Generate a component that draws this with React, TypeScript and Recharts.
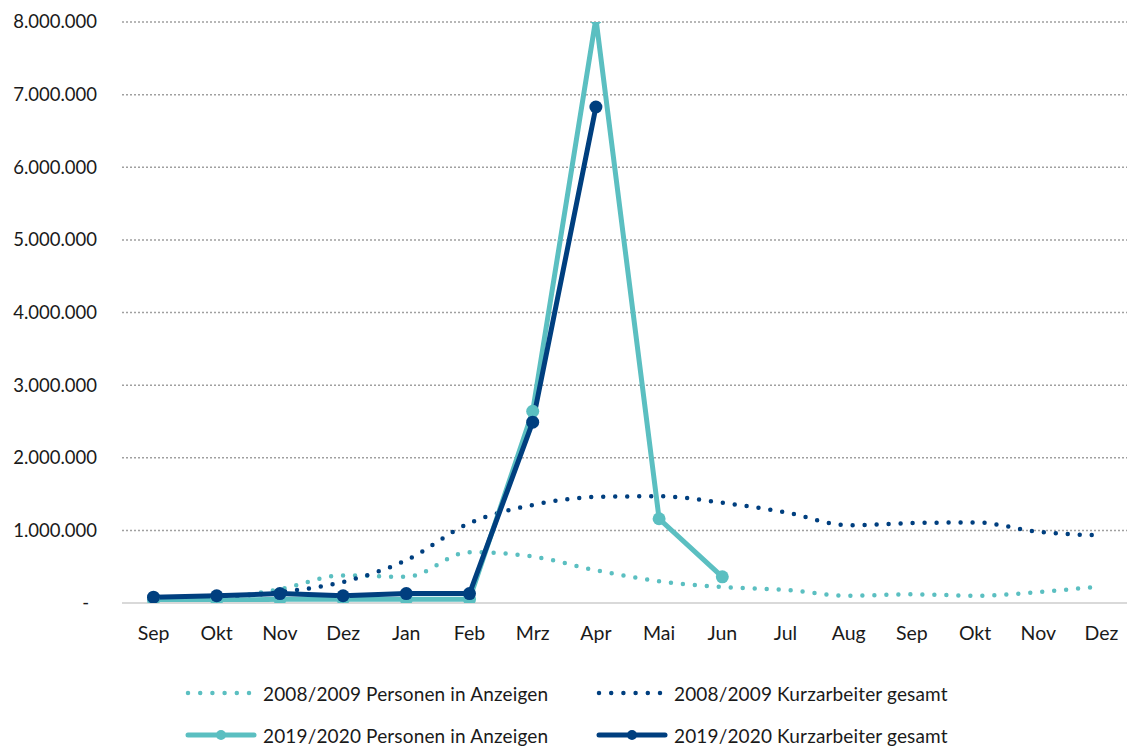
import { LineChart, Line, XAxis, YAxis, CartesianGrid, Legend } from 'recharts';

const TEAL = '#5bbfc1';
const NAVY = '#003f7f';
const FONT = 'Lato, "Noto Sans", sans-serif';

const months = ['Sep', 'Okt', 'Nov', 'Dez', 'Jan', 'Feb', 'Mrz', 'Apr', 'Mai', 'Jun', 'Jul', 'Aug', 'Sep', 'Okt', 'Nov', 'Dez'];
const yTicks = [0, 1000000, 2000000, 3000000, 4000000, 5000000, 6000000, 7000000, 8000000];

// 2008/2009 (dotted, smoothed)
const personen0809 = [20000, 60000, 190000, 380000, 360000, 700000, 640000, 450000, 300000, 220000, 180000, 100000, 120000, 100000, 150000, 230000];
const kurz0809 = [30000, 70000, 150000, 290000, 590000, 1100000, 1350000, 1460000, 1470000, 1380000, 1250000, 1070000, 1100000, 1110000, 980000, 930000];

// 2019/2020 (solid with markers)
const personen1920 = [40000, 40000, 50000, 50000, 50000, 50000, 2640000, 8050000, 1160000, 360000, null, null, null, null, null, null];
const kurz1920 = [80000, 100000, 130000, 100000, 130000, 130000, 2490000, 6830000, null, null, null, null, null, null, null, null];

const data = months.map((m, i) => ({
  idx: i,
  p0809: personen0809[i],
  k0809: kurz0809[i],
  p1920: personen1920[i],
  k1920: kurz1920[i],
}));

const legendItems = [
  { name: '2008/2009 Personen in Anzeigen', color: TEAL, dotted: true, x: 185, y: 27 },
  { name: '2008/2009 Kurzarbeiter gesamt', color: NAVY, dotted: true, x: 596, y: 27 },
  { name: '2019/2020 Personen in Anzeigen', color: TEAL, dotted: false, x: 185, y: 69 },
  { name: '2019/2020 Kurzarbeiter gesamt', color: NAVY, dotted: false, x: 596, y: 69 },
];

const fmt = (v: number) => (v === 0 ? '-' : v.toLocaleString('de-DE'));

function YTick(props: any) {
  const { x, y, payload } = props;
  const zero = payload.value === 0;
  return (
    <text x={zero ? x - 8 : x} y={y} dy="0.35em" textAnchor="end" fill="#1a1a1a" fontSize={18.5} fontFamily={FONT}>
      {fmt(payload.value)}
    </text>
  );
}

function LegendContent() {
  return (
    <div style={{ position: 'relative', width: 1127, height: 80, fontFamily: FONT, fontSize: 19, letterSpacing: 0.15, color: '#1a1a1a' }}>
      {legendItems.map((it) => (
        <div key={it.name} style={{ position: 'absolute', left: it.x, top: it.y - 12, height: 24, display: 'flex', alignItems: 'center' }}>
          <svg width={72} height={14} style={{ marginRight: 6 }}>
            {it.dotted ? (
              <line x1={3} y1={7} x2={70} y2={7} stroke={it.color} strokeWidth={4.5} strokeLinecap="round" strokeDasharray="0 12.2" />
            ) : (
              <g>
                <line x1={3} y1={7} x2={69} y2={7} stroke={it.color} strokeWidth={5} strokeLinecap="round" />
                <circle cx={36} cy={7} r={5} fill={it.color} />
              </g>
            )}
          </svg>
          <span style={{ whiteSpace: 'nowrap' }}>{it.name}</span>
        </div>
      ))}
    </div>
  );
}

export default function App() {
  return (
    <div style={{ position: 'absolute', left: 0, top: 0, width: 1127, height: 746, overflow: 'hidden', background: '#fff' }}>
      <LineChart width={1135} height={746} data={data} margin={{ top: 22, right: 2, left: 0, bottom: 0 }}>
        <CartesianGrid vertical={false} stroke="#a0a0a0" strokeWidth={1.5} strokeDasharray="2 2" horizontalValues={yTicks.slice(1)} />
        <XAxis
          dataKey="idx"
          type="category"
          height={63}
          padding={{ left: 31.5, right: 31.5 }}
          tickFormatter={(i: number) => months[i]}
          tickLine={false}
          tickSize={0}
          tickMargin={23}
          axisLine={{ stroke: '#d9d9d9', strokeWidth: 2 }}
          tick={{ fill: '#1a1a1a', fontSize: 19.5, fontFamily: FONT }}
          interval={0}
        />
        <YAxis
          width={122}
          domain={[0, 8000000]}
          ticks={yTicks}
          allowDataOverflow
          axisLine={false}
          tickLine={false}
          tickSize={0}
          tickMargin={25}
          tick={<YTick />}
        />
        <Legend verticalAlign="bottom" height={80} wrapperStyle={{ left: 0, width: 1127 }} content={<LegendContent />} />
        <Line type="monotone" dataKey="p0809" name="2008/2009 Personen in Anzeigen" stroke={TEAL} strokeWidth={4.5} strokeLinecap="round" strokeDasharray="0 12" dot={false} isAnimationActive={false} />
        <Line type="monotone" dataKey="k0809" name="2008/2009 Kurzarbeiter gesamt" stroke={NAVY} strokeWidth={4.5} strokeLinecap="round" strokeDasharray="0 12" dot={false} isAnimationActive={false} />
        <Line type="linear" dataKey="p1920" name="2019/2020 Personen in Anzeigen" stroke={TEAL} strokeWidth={5} dot={{ r: 6.5, fill: TEAL, stroke: TEAL, strokeWidth: 0 }} connectNulls={false} isAnimationActive={false} />
        <Line type="linear" dataKey="k1920" name="2019/2020 Kurzarbeiter gesamt" stroke={NAVY} strokeWidth={5} dot={{ r: 6.5, fill: NAVY, stroke: NAVY, strokeWidth: 0 }} connectNulls={false} isAnimationActive={false} />
      </LineChart>
    </div>
  );
}
